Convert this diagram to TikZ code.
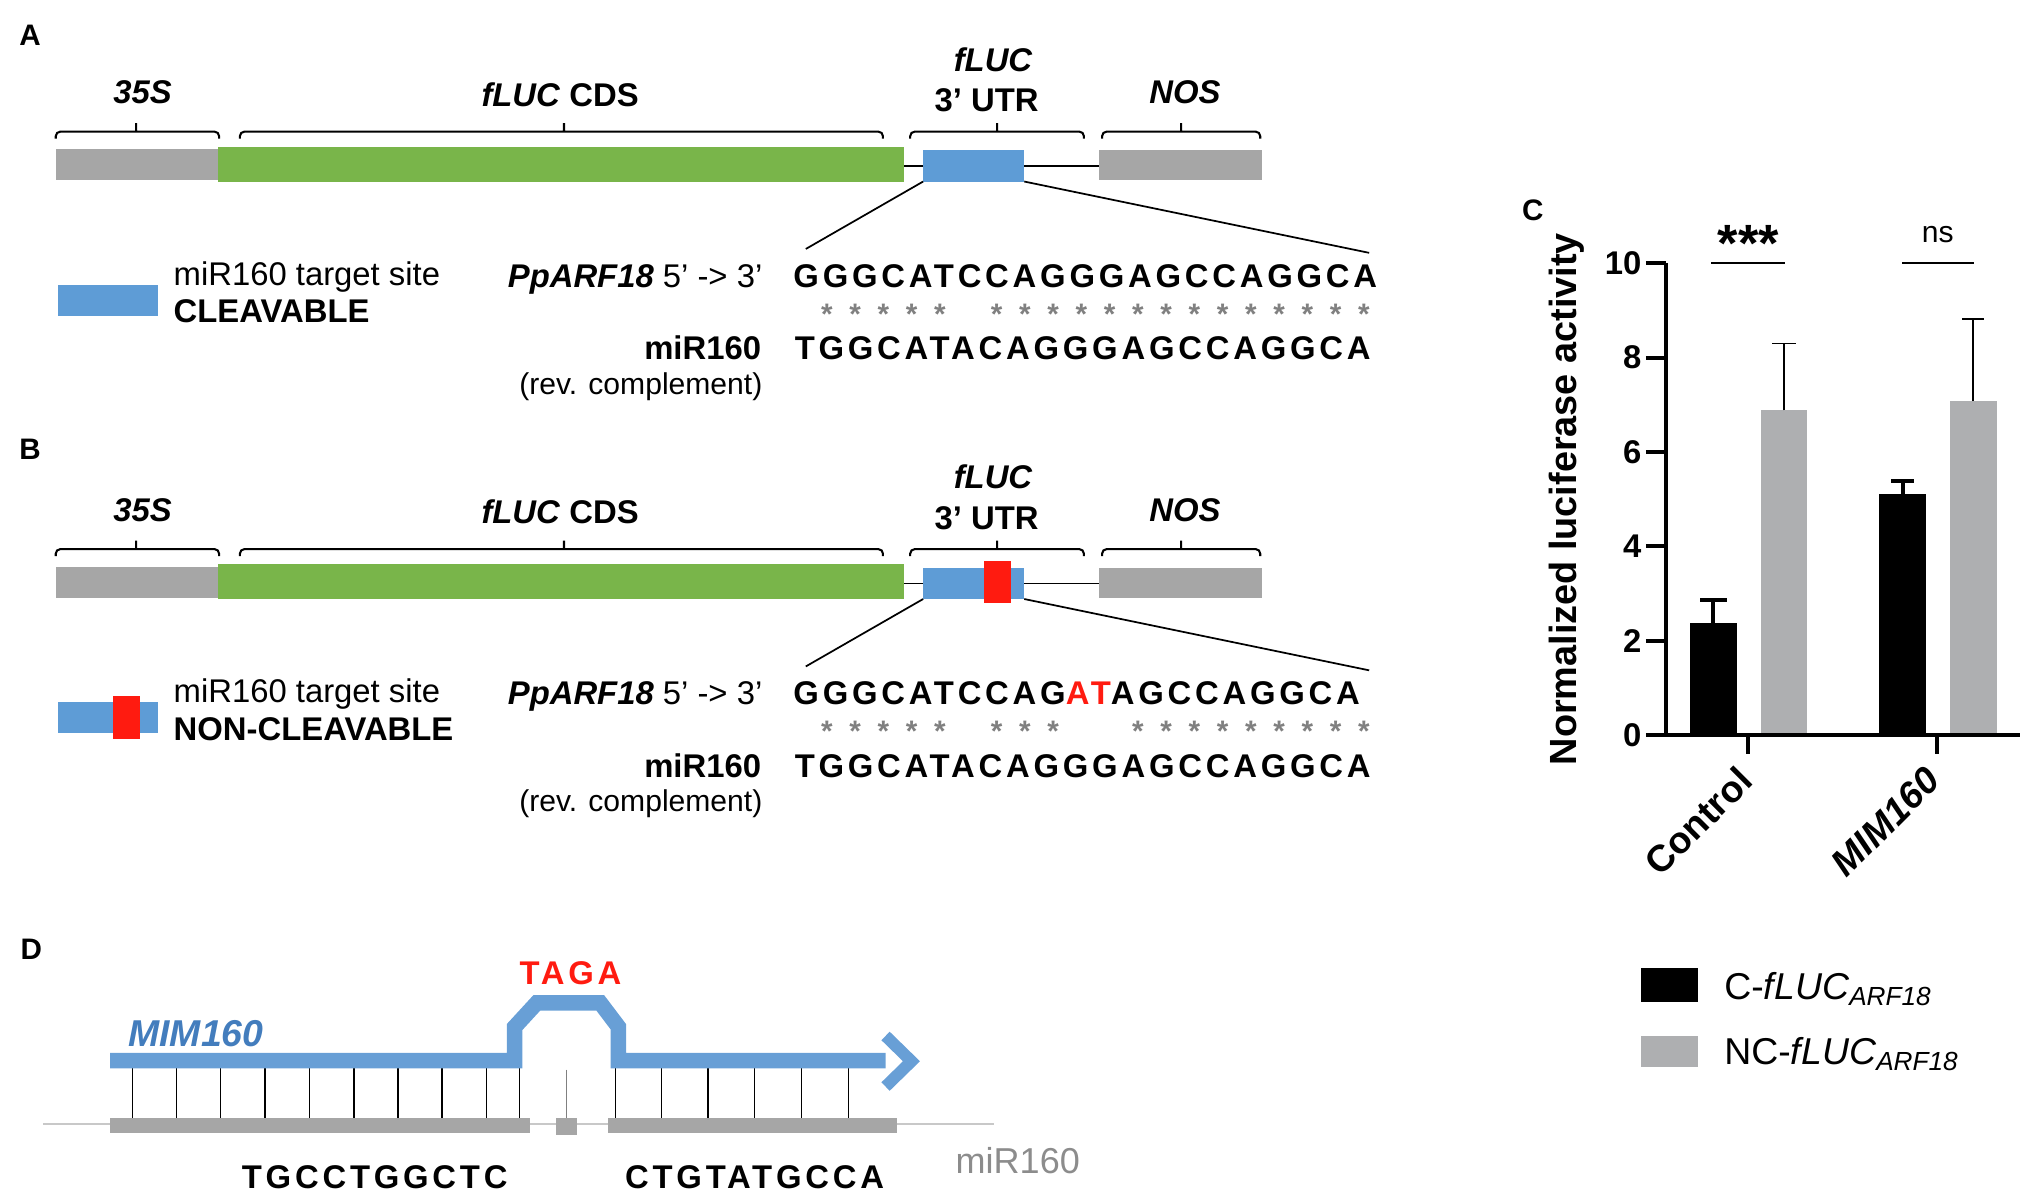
\documentclass[tikz,border=0pt]{standalone}
\usepackage{fontspec}
\setmainfont{Liberation Sans}
\newfontfamily\seqfont[LetterSpace=11.5]{Liberation Sans}
\usetikzlibrary{fit}

\definecolor{boxgray}{HTML}{A6A6A6}
\definecolor{cdsgreen}{HTML}{79B54A}
\definecolor{utrblue}{HTML}{5E9CD6}
\definecolor{mutred}{HTML}{FF1B10}
\definecolor{stargray}{HTML}{808080}
\definecolor{bargray}{HTML}{AEAFB1}
\definecolor{mimblue}{HTML}{689FD6}
\definecolor{mimtext}{HTML}{437DBD}
\definecolor{basegray}{HTML}{C8C8C8}
\definecolor{labgray}{HTML}{8C8C8C}

\newcommand{\fsz}[1]{\fontsize{#1}{#1}\selectfont}

\begin{document}
\begin{tikzpicture}[x=0.01cm, y=-0.01cm,
    every node/.style={inner sep=0pt, outer sep=0pt},
    part box/.style={fill=#1, draw=none},
    part label/.style={font=\fsz{7.2}\bfseries, anchor=base},
    brace line/.style={line width=0.45pt, rounded corners=1pt},
    zoom line/.style={line width=0.38pt},
    seq text/.style={font=\fsz{7.2}\seqfont\bfseries, anchor=base west},
    match star/.style={font=\fsz{6.5}\bfseries, text=stargray, anchor=north},
    side text/.style={font=\fsz{7.2}, anchor=base east},
    key text/.style={font=\fsz{7.2}, anchor=base west},
    panel/.style={font=\fsz{6.5}\bfseries, anchor=base west},
    axis line/.style={line width=0.85pt, line join=miter},
    tick label/.style={font=\fsz{7.2}\bfseries, anchor=east},
    strand/.style={draw=mimblue, line width=3.4pt, line join=miter},
    pair line/.style={line width=0.3pt}]

  \useasboundingbox (0,0) rectangle (1568,926);

  \node[panel] (pa) at (15,35) {A};
  \node[panel] (pb) at (15,354) {B};
  \node[panel] (pc) at (1174,170) {C};
  \node[panel] (pd) at (16,740) {D};

  \foreach \dy/\p/\kind/\topseq/\stars in {
      0/a/CLEAVABLE/{GGGCATCCAGGGAGCCAGGCA}/{2,3,4,5,6,8,9,10,11,12,13,14,15,16,17,18,19,20,21},
      322/b/NON-CLEAVABLE/{GGGCATCCAG\textcolor{mutred}{AT}AGCCAGGCA}/{2,3,4,5,6,8,9,10,13,14,15,16,17,18,19,20,21}} {

    \node[part label] (lpro\p) at (110,80+\dy) {\textit{35S}};
    \node[part label] (lcds\p) at (432,82+\dy) {\textit{fLUC} CDS};
    \node[part label] (lutr\p) at (766,55+\dy) {\textit{fLUC}};
    \node[part label] (lutrb\p) at (761,86+\dy) {3’ UTR};
    \node[part label] (lnos\p) at (914,80+\dy) {\textit{NOS}};

    \foreach \l/\m/\r in {43/105/169, 185/435/681, 702/769/836, 850/911/972}
      \draw[brace line] (\l,107+\dy) -- (\l,101.5+\dy) -- (\r,101.5+\dy) -- (\r,107+\dy)
                        (\m,101.5+\dy) -- (\m,95+\dy);

    \node[part box=boxgray, fit={(43,115+\dy) (168,139+\dy)}] (pro\p) {};
    \node[part box=cdsgreen, fit={(168,113+\dy) (697,140+\dy)}] (cds\p) {};
    \node[part box=utrblue, fit={(712,116+\dy) (790,140+\dy)}] (utr\p) {};
    \node[part box=boxgray, fit={(848,116+\dy) (973,139+\dy)}] (nos\p) {};
    \draw[zoom line] (utr\p.west) -- (utr\p.west -| cds\p.east)
                     (utr\p.east) -- (utr\p.east -| nos\p.west);

    \coordinate (zl\p) at (621.5,192+\dy);
    \coordinate (zr\p) at (1056,195+\dy);
    \draw[zoom line] (utr\p.south west) -- (zl\p) (utr\p.south east) -- (zr\p);

    \node[part box=utrblue, fit={(45,219.5+\dy) (122,243.5+\dy)}] (key\p) {};
    \node[key text] (keya\p) at (134,220+\dy) {miR160 target site};
    \node[key text, font=\fsz{7.2}\bfseries] (keyb\p) at (134,249+\dy) {\kind};

    \node[side text] (gene\p) at (588,221.5+\dy) {\textbf{\textit{PpARF18}} 5’ -> 3’};
    \node[side text, font=\fsz{7.2}\bfseries] (mir\p) at (587,277.5+\dy) {miR160};
    \node[side text, font=\fsz{6.6}] (rc\p) at (588,304+\dy) {(rev. complement)};

    \node[seq text] (top\p) at (612,221.5+\dy) {\topseq};
    \node[seq text] (bot\p) at (613,277.5+\dy) {TGGCATACAGGGAGCCAGGCA};
    \foreach \i in \stars
      \node[match star] (star\p\i) at (616+21.8*\i-21.8,234.5+\dy) {*};
  }

  \node[part box=mutred, fit={(759,432.7) (780,464.8)}] (mut) {};
  \node[part box=mutred, fit={(87,537) (108,570)}] (keymut) {};

  \foreach \x/\v/\e/\c/\w/\h in {1321.5/2.37/2.86/black/0.85/10.3, 1376/6.88/8.30/bargray/0.4/9,
                                 1467.5/5.12/5.38/black/0.85/9, 1522/7.08/8.82/bargray/0.4/8.5} {
    \fill[\c] (\x-18,567) rectangle (\x+18,567-36.4*\v);
    \draw[line width=\w pt] (\x,567-36.4*\v) -- (\x,567-36.4*\e)
                            (\x-\h,567-36.4*\e) -- (\x+\h,567-36.4*\e);
  }

  \draw[axis line] (1285,203) -- (1285,567) -- (1558,567);
  \foreach \v in {0,2,...,10} {
    \draw[axis line] (1269.5,567-36.4*\v) -- (1285,567-36.4*\v);
    \node[tick label] (t\v) at (1266,567-36.4*\v) {\v};
  }
  \draw[axis line] (1348,567) -- (1348,581.5) (1494,567) -- (1494,581.5);

  \draw[line width=0.45pt] (1320,203) -- (1377,203) (1467,203) -- (1522.5,203);
  \node[font=\fsz{11.5}\bfseries, anchor=north] (sig1) at (1348.5,173.5) {***};
  \node[font=\fsz{6.6}, anchor=base] (sig2) at (1494.5,187) {ns};

  \node[font=\fsz{8.3}\bfseries, rotate=90] (ylab) at (1208,385) {Normalized luciferase activity};
  \node[font=\fsz{8.2}\bfseries, rotate=45, anchor=east] (xl1) at (1346,597) {Control};
  \node[font=\fsz{8.2}\bfseries\itshape, rotate=45, anchor=east] (xl2) at (1491,597) {MIM160};

  \node[part box=black, fit={(1266,746.5) (1309.5,773)}] (kc) {};
  \node[part box=bargray, fit={(1266,799) (1309.5,823)}] (knc) {};
  \node[font=\fsz{8.2}, anchor=base west] (kct) at (1330,771) {C-\textit{fLUC}\textsubscript{\textit{ARF18}}};
  \node[font=\fsz{8.2}, anchor=base west] (knct) at (1330,821) {NC-\textit{fLUC}\textsubscript{\textit{ARF18}}};

  \coordinate (bl) at (33.5,867);
  \coordinate (br) at (767,867);
  \draw[basegray, line width=0.3pt] (bl) -- (br);
  \node[part box=boxgray, fit={(85,862) (408.5,873.5)}] (mirl) {};
  \node[part box=boxgray, fit={(429,862) (445,875)}] (mirm) {};
  \node[part box=boxgray, fit={(469,862) (691.5,873.5)}] (mirr) {};

  \foreach \x in {102,136,170,204.5,238.5,273,307,341,375,400.5}
    \draw[pair line] (\x,824) -- (\x,824 |- mirl.north);
  \foreach \x in {474.5,510,546,582,618,654.5}
    \draw[pair line] (\x,824) -- (\x,824 |- mirr.north);
  \draw[pair line, draw=gray] (437,825) -- (mirm.north);

  \draw[strand] (85,818) -- (397,818) -- (397,792) -- (414,773.5) -- (463,773.5)
                -- (477,792) -- (477,818) -- (683,818);
  \draw[strand, line width=2.6pt] (683,799) -- (703,818.5) -- (683,838);

  \node[font=\fsz{8.2}\bfseries\itshape, text=mimtext, anchor=base west] (mim) at (99,807) {MIM160};
  \node[font=\fsz{7.2}\seqfont\bfseries, text=mutred, anchor=base] (taga) at (440,759.5) {TAGA};
  \node[seq text, anchor=base] (sl) at (289,917) {TGCCTGGCTC};
  \node[seq text, anchor=base] (sr) at (582,917) {CTGTATGCCA};
  \node[font=\fsz{7.9}, text=labgray, anchor=base] (mirlab) at (785,905) {miR160};

\end{tikzpicture}
\end{document}
